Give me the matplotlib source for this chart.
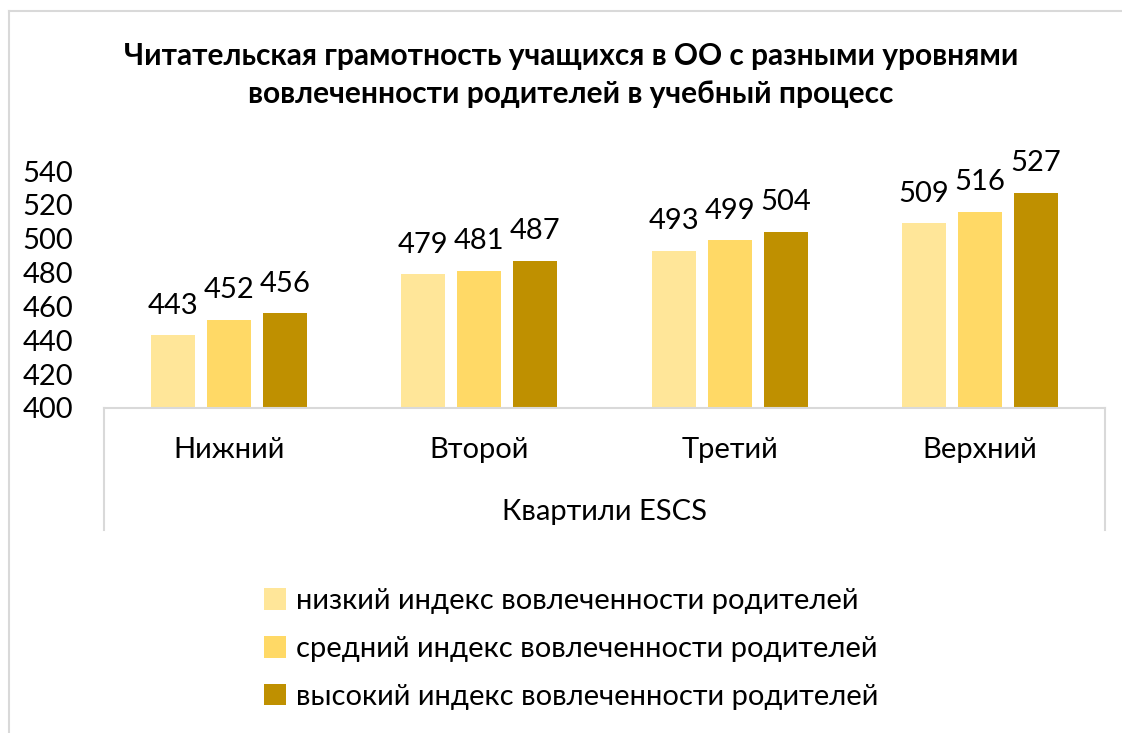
import matplotlib
matplotlib.use("Agg")
import matplotlib.pyplot as plt
import numpy as np
from matplotlib.patches import Patch
from matplotlib.lines import Line2D

categories = ["Нижний", "Второй", "Третий", "Верхний"]
series_names = ["низкий индекс вовлеченности родителей",
                "средний индекс вовлеченности родителей",
                "высокий индекс вовлеченности родителей"]
low = [443, 479, 493, 509]
mid = [452, 481, 499, 516]
high = [456, 487, 504, 527]
colors = ["#FFE699", "#FFD966", "#BF9000"]
yticks = [400, 420, 440, 460, 480, 500, 520, 540]
title = "Читательская грамотность учащихся в ОО с разными уровнями\nвовлеченности родителей в учебный процесс"
xlabel = "Квартили ESCS"

FONT = ['Lato', 'DejaVu Sans']
plt.rcParams['font.family'] = FONT

W, H = 1122, 733
fig = plt.figure(figsize=(W / 100, H / 100), dpi=100)
ax = fig.add_axes([104 / W, 1 - 408 / H, (1105 - 104) / W, (408 - 171) / H])

x = np.arange(len(categories))
bw = 0.176
off = 0.224
fs = 21
for i, (vals, c) in enumerate(zip([low, mid, high], colors)):
    ax.bar(x + (i - 1) * off, np.array(vals) - 400, bottom=400, width=bw,
           color=c, label=series_names[i])
    for xi, v in zip(x + (i - 1) * off, vals):
        ax.annotate(str(v), (xi, v), xytext=(0, 12), textcoords='offset points',
                    ha='center', va='bottom', fontsize=fs, color='black')

ax.set_xlim(-0.5, 3.5)
ax.set_ylim(400, 540)
ax.set_yticks(yticks)
ax.set_yticklabels([str(t) for t in yticks], fontsize=fs)
ax.tick_params(axis='y', length=0, pad=22)
ax.set_xticks([])
for s in ['top', 'right', 'left']:
    ax.spines[s].set_visible(False)
ax.spines['bottom'].set_color('#D9D9D9')
ax.spines['bottom'].set_linewidth(1.5)

# multi-level axis side lines
for xa in (0, 1):
    ax.add_line(Line2D([xa, xa], [0, -122 / 237], transform=ax.transAxes,
                       color='#D9D9D9', lw=1.5, clip_on=False))

trans = ax.get_xaxis_transform()
for xi, c in zip(x, categories):
    ax.text(xi, -42 / 237, c, transform=trans, ha='center', va='center', fontsize=fs)
ax.text(0.5, -104 / 237, xlabel, transform=ax.transAxes, ha='center', va='center', fontsize=fs)

fig.text(571 / W, 1 - 75 / H, title, ha='center', va='center', fontsize=21.5,
         fontweight='bold', linespacing=1.45)

# chart frame (top and left borders)
fig.add_artist(Line2D([8.5 / W, 8.5 / W], [0, 1 - 10.5 / H], transform=fig.transFigure,
                      color='#D9D9D9', lw=1.5))
fig.add_artist(Line2D([8.5 / W, 1], [1 - 10.5 / H, 1 - 10.5 / H], transform=fig.transFigure,
                      color='#D9D9D9', lw=1.5))

handles = [Patch(facecolor=c, edgecolor='none') for c in colors]
fig.legend(handles, series_names, loc='center', bbox_to_anchor=(571 / W, 1 - 649 / H),
           frameon=False, fontsize=fs, handlelength=0.75, handleheight=0.75,
           handletextpad=0.35, labelspacing=0.75)

fig.savefig("out.png", dpi=100, facecolor='white')
